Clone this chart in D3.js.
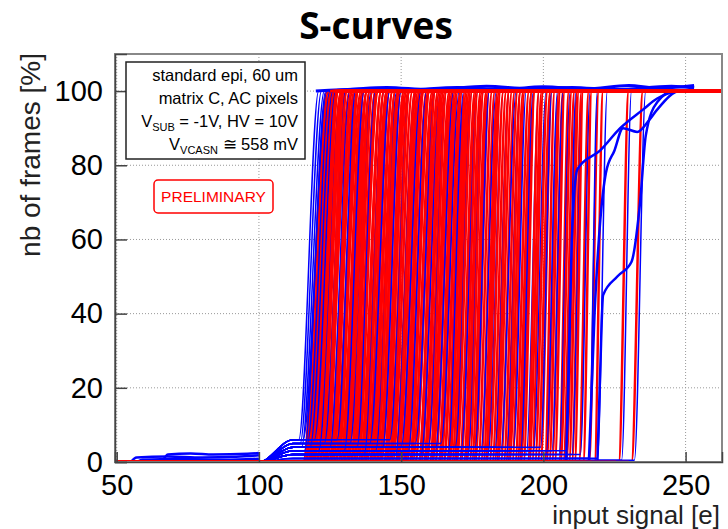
<!DOCTYPE html>
<html>
<head>
<meta charset="utf-8">
<script src="https://cdn.jsdelivr.net/npm/d3@7"></script>
<style>
body { margin: 0; background: #fff; }
svg text { font-family: "Liberation Sans", Arial, sans-serif; }
</style>
</head>
<body>
<svg id="chart" width="728" height="529"></svg>
<script>
var xTicks = [50, 100, 150, 200, 250];
var yTicks = [0, 20, 40, 60, 80, 100];

// red S-curves: [x where it leaves 0 %, x where it reaches 100 %]
var redCurves = [
  [115.5,124],[116,125.5],[116.5,124.5],[117,126],[117.2,125],[117.5,127],[118,125.5],[118.2,126.5],
  [118.5,127.5],[119,128],[119.2,127],[119.5,126.5],[120,129],[120.2,127.5],[120.5,128],[121,130],
  [121.5,129],[122,129.5],[122.5,131],[122.8,130.5],[123,132],[123.5,130],[124,131],[124.5,133],
  [125,134],[125.5,132.5],[126,133.5],[126.5,135],[127,136],[127.8,134.5],[128,135],[128.5,136.5],
  [129,137],[129.5,138],[130,137],[130.5,138],[131,139],[131.5,138],[132,140],[132.5,139],
  [133,140],[133.5,141],[134,142],[134.8,141],[135,141.5],[135.5,143],[136,143],[136.5,144],
  [137,145],[137.5,144],[138,145.5],[138.8,145],[139,146],[139.5,147],[140,147],[140.5,148],
  [141,149],[141.5,148],[142,149.5],[142.5,149],[143,150],[143.8,151],[144,151],[144.5,152],
  [145,151.5],[145.5,153],[146,152.5],[146.5,153],[147,154],[147.8,155],[148,155.5],[148.5,155],
  [149,156],[149.8,157],[150,156.5],[150.5,158],[151,157.5],[151.5,158],[152,159],[152.8,160],
  [153,160],[153.5,159.5],[154,161],[154.8,162],[155,161.5],[156,163],[156.5,162],[157,163.5],
  [157.8,164.5],[158,165],[158.5,164],[159,165.5],[160,166],[160.5,167],[161,167.5],[161.8,168.5],
  [162,168],[163,169],[163.5,169.5],[164,170],[164.8,171],[165,171],[166,171.5],[166.5,172.5],
  [167,173],[167.8,173.5],[168.5,174],[169,174.5],[169.5,175],[170.5,176],[171,176.5],[172,177],
  [172.5,178],[173,178.5],[174,179],[174.8,180],[175.5,180.5],[176,181],[177,182],[178,183],
  [178.8,184],[179.5,184.5],[180,185],[181,186],[182,187],[182.8,188],[183.5,188],[184,189],
  [185,190],[186,191],[186.8,192],[187.5,192],[188,193],[189,193.5],[190,195],[190.8,196],
  [191.5,196],[192,197],[193,197],[194.5,198.5],[195,199.5],[196,200],[197,201.5],[198,202.5],
  [199,203],[200.5,204],[201,205.5],[202,206],[203,207],[204,207.5],[205.5,209],[206,210],
  [207,211],[208,212],[209,212.5],[210,213.5],[211,214],[212.5,216],[214,217],[216,219.5],
  [218,221],[226.5,230],[231,235]
];

// blue S-curves: [x leaving the foot, x reaching 100 %, foot level %]
var blueCurves = [
  [114,121,6],[114.5,122,5],[115,123,4],[115.5,124,6],[116,123.5,3],[117,125,5],[118,126,4],
  [119.5,127,6],[121,129,3],[123,130.5,5],[125,132,4],[127.5,134,6],[130,137,3],[132,139.5,5],
  [134.5,141,4],[137,144,2],[139,146,5],[141,148.5,3],[143.5,150,4],[146,153,6],[148,155,2],
  [150,157,4],[152.5,159,3],[155,162,5],[157,164,2],[159.5,166,4],[162,168.5,3],[164,170.5,5],
  [166.5,172,2],[169,175,4],[171,177,3],[173.5,179,2],[176,181,4],[178,183.5,3],[180.5,186,2],
  [183,188,4],[185,190.5,3],[187,192,2],[189.5,194,4],[192,196.5,3],[194,198.5,2],[196.5,201,3],
  [199,203,4],[201,205,2],[203,207,3],[205.5,209.5,2],[208,211.5,3],[210,214,2],[213,216.5,2],
  [216,219,1],[219,222.5,1],[227.5,231,0.5],[232,236,0.5]
];
var blueFootX = [100, 112];
var blueEnd = 253;

// low level noise tails of blue pixels
var blueTails = [
  [[55,0],[57,1.2],[68,1.5],[80,1.2],[92,1.4],[100,1.8]],
  [[57,0],[59,0.6],[72,0.8],[88,0.6],[100,0.9]],
  [[66,0],[68,2],[76,2.3],[84,2],[96,2.2],[100,2.4]]
];
// blue curves wandering slightly above 100 %
var blueTops = [
  [[120,100],[135,100.5],[150,100.2],[170,101],[185,100.4],[200,101.2],[215,100.6],[230,101.5],[240,100.8],[253,101.5]],
  [[125,100],[145,101],[160,100.4],[180,101.3],[195,100.7],[210,101],[225,100.4],[245,101.3],[253,100.8]]
];
// slowly rising blue curves on the right
var blueSlow = [
  [[208,0],[209,30],[210,60],[212,79],[220,84],[227,90],[235,95],[240,98],[249,100],[253,100]],
  [[216,0],[218,40],[220,65],[222,78],[225,84],[228,90],[233,89],[237,92],[240,95],[248,100],[253,100]],
  [[219,0],[220,25],[221,45],[226,50],[231,54],[234,70],[236,88],[240,97],[246,100],[253,100]]
];

var svg = d3.select("#chart");
var frame = {left: 115, right: 722, top: 54, bottom: 462};

var x = d3.scaleLinear().domain([49.4, 262.8]).range([frame.left, frame.right]);
var y = d3.scaleLinear().domain([0, 110]).range([frame.bottom, frame.top]);
var xLo = x.domain()[0], xHi = x.domain()[1];

svg.append("defs").append("clipPath").attr("id", "clip")
  .append("rect")
  .attr("x", frame.left).attr("y", frame.top)
  .attr("width", frame.right - frame.left).attr("height", frame.bottom - frame.top);

// title
svg.append("text")
  .attr("x", 376).attr("y", 39)
  .attr("text-anchor", "middle")
  .style("font-family", "'Open Sans', sans-serif")
  .style("font-weight", "700")
  .style("font-size", "37px")
  .text("S-curves");

// grid
var grid = svg.append("g").attr("stroke", "#999").attr("stroke-width", 1).attr("stroke-dasharray", "1,2");
grid.selectAll(".gx").data(xTicks).enter().append("line")
  .attr("x1", d => x(d)).attr("x2", d => x(d))
  .attr("y1", frame.top).attr("y2", frame.bottom);
grid.selectAll(".gy").data(yTicks.slice(1)).enter().append("line")
  .attr("x1", frame.left).attr("x2", frame.right)
  .attr("y1", d => y(d)).attr("y2", d => y(d));

// curves: red and blue drawn interleaved along the threshold
var curves = redCurves.map(d => ({
    color: "#ff0000", x0: d[0], w: 2.5,
    pts: [[xLo, 0], [d[0], 0], [d[1], 100], [xHi, 100]]
  })).concat(blueCurves.map(d => ({
    color: "#0000ff", x0: d[0] + 0.3, w: 1.5,
    pts: [[xLo, 0], [blueFootX[0], 0], [blueFootX[1], d[2]], [d[0], d[2]], [d[1], 100], [blueEnd, 100]]
  })));
curves.sort((a, b) => a.x0 - b.x0);

var line = d3.line().x(d => x(d[0])).y(d => y(d[1])).curve(d3.curveMonotoneX);
var straight = d3.line().x(d => x(d[0])).y(d => y(d[1]));
var plot = svg.append("g").attr("clip-path", "url(#clip)").attr("fill", "none")
  .attr("stroke-width", 2.5).attr("stroke-linejoin", "round");

plot.selectAll(".tail").data(blueTails).enter().append("path")
  .attr("d", line).attr("stroke", "#0000ff");

plot.selectAll(".curve").data(curves).enter().append("path")
  .attr("d", d => line(d.pts))
  .attr("stroke", d => d.color)
  .attr("stroke-width", d => d.w);

plot.selectAll(".slow").data(blueSlow).enter().append("path")
  .attr("d", line).attr("stroke", "#0000ff");

plot.selectAll(".top").data(blueTops).enter().append("path")
  .attr("d", line).attr("stroke", "#0000ff").attr("stroke-width", 3);

// red plateaus and baselines redrawn on top
plot.selectAll(".plateau").data(redCurves).enter().append("path")
  .attr("d", d => straight([[d[1] + 1, 100], [xHi, 100]]))
  .attr("stroke", "#ff0000");
plot.selectAll(".base").data(redCurves).enter().append("path")
  .attr("d", d => straight([[xLo, 0], [d[0] - 1, 0]]))
  .attr("stroke", "#ff0000");

// frame
svg.append("rect")
  .attr("x", frame.left).attr("y", frame.top)
  .attr("width", frame.right - frame.left).attr("height", frame.bottom - frame.top)
  .attr("fill", "none").attr("stroke", "#888").attr("stroke-width", 2);

// x axis
var xMinor = d3.range(50, 261, 10);
var gx = svg.append("g").attr("transform", "translate(0," + frame.bottom + ")");
gx.call(d3.axisBottom(x).tickValues(xMinor).tickSize(-6).tickFormat(""));
gx.call(d3.axisBottom(x).tickValues(xTicks).tickSize(-10).tickPadding(12));
gx.selectAll("path.domain").attr("stroke", "#444").attr("stroke-width", 1.5);
gx.selectAll("line").attr("stroke", "#444").attr("stroke-width", 1.5);
gx.selectAll("text").style("font-size", "29px").attr("fill", "#000");

// y axis
var yMinor = d3.range(0, 110.1, 2.5);
var gy = svg.append("g").attr("transform", "translate(" + frame.left + ",0)");
gy.call(d3.axisLeft(y).tickValues(yMinor).tickSize(-6).tickFormat(""));
gy.call(d3.axisLeft(y).tickValues(yTicks).tickSize(-12).tickPadding(12));
gy.selectAll("path.domain").attr("stroke", "#444").attr("stroke-width", 1.5);
gy.selectAll("line").attr("stroke", "#444").attr("stroke-width", 1.5);
gy.selectAll("text").style("font-size", "29px").attr("fill", "#000");

// axis titles
svg.append("text")
  .attr("x", 720).attr("y", 524)
  .attr("text-anchor", "end")
  .style("font-size", "26px").attr("fill", "#222")
  .text("input signal [e]");
svg.append("text")
  .attr("transform", "translate(40,53) rotate(-90)")
  .attr("text-anchor", "end")
  .style("font-size", "28px").attr("fill", "#222")
  .text("nb of frames [%]");

// info box
var info = svg.append("g");
info.append("rect")
  .attr("x", 126).attr("y", 62).attr("width", 179).attr("height", 97)
  .attr("fill", "#fff").attr("stroke", "#222").attr("stroke-width", 1.5);
var infoRight = 298;
info.append("text").attr("x", infoRight).attr("y", 81).attr("text-anchor", "end")
  .style("font-size", "16.5px").text("standard epi, 60 um");
info.append("text").attr("x", infoRight).attr("y", 104).attr("text-anchor", "end")
  .style("font-size", "16.5px").text("matrix C, AC pixels");
var t3 = info.append("text").attr("x", infoRight).attr("y", 127).attr("text-anchor", "end")
  .style("font-size", "16.5px");
t3.append("tspan").text("V");
t3.append("tspan").attr("dy", 4).style("font-size", "11px").text("SUB");
t3.append("tspan").attr("dy", -4).text(" = -1V, HV = 10V");
var t4 = info.append("text").attr("x", infoRight).attr("y", 150).attr("text-anchor", "end")
  .style("font-size", "16.5px");
t4.append("tspan").text("V");
t4.append("tspan").attr("dy", 4).style("font-size", "11px").text("VCASN");
t4.append("tspan").attr("dy", -4).text(" \u2245 558 mV");

// preliminary label
svg.append("rect")
  .attr("x", 154).attr("y", 180).attr("width", 119).attr("height", 33).attr("rx", 4)
  .attr("fill", "#fff").attr("stroke", "#ff0000").attr("stroke-width", 1.5);
svg.append("text")
  .attr("x", 213.5).attr("y", 202).attr("text-anchor", "middle")
  .style("font-size", "15.5px").attr("fill", "#ff0000")
  .text("PRELIMINARY");
</script>
</body>
</html>
